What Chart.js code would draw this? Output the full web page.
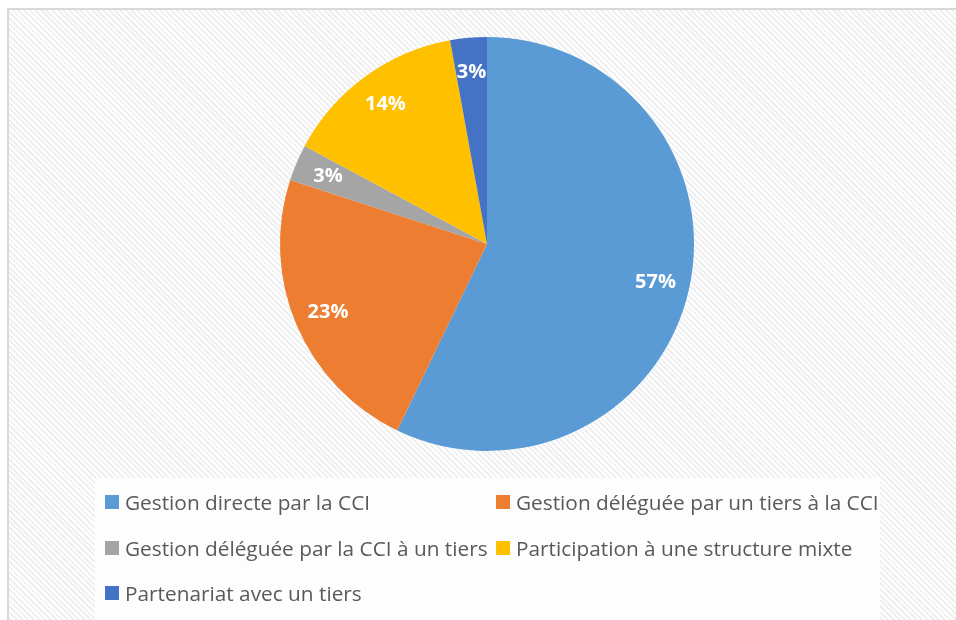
<!DOCTYPE html>
<html>
<head>
<meta charset="utf-8">
<script src="https://cdn.jsdelivr.net/npm/chart.js@4"></script>
<style>
  html, body { margin: 0; padding: 0; background: #fff; width: 956px; height: 620px; overflow: hidden; }
  #frame {
    position: absolute; left: 7px; top: 8px; width: 980px; height: 640px;
    border-left: 2px solid #d9d9d9; border-top: 2px solid #d9d9d9;
    background: repeating-linear-gradient(45deg, #ffffff 0px, #ffffff 2px, #efefef 2px, #efefef 4px);
  }
  #legendBox {
    position: absolute; left: 95px; top: 478px; width: 785px; height: 150px;
    background: #fdfdfd;
  }
  #chart { position: absolute; left: 0; top: 0; }
  .item {
    position: absolute; display: flex; align-items: center;
    font-family: "Open Sans", sans-serif; font-size: 20.8px; color: #595959;
    white-space: nowrap; height: 26px;
  }
  .item span.box { width: 14px; height: 14px; margin-right: 6px; display: inline-block; }
</style>
</head>
<body>
<div id="frame"></div>
<div id="legendBox"></div>
<canvas id="chart" width="956" height="620"></canvas>
<div id="legend"></div>
<script>
const categories = [
  "Gestion directe par la CCI",
  "Gestion déléguée par un tiers à la CCI",
  "Gestion déléguée par la CCI à un tiers",
  "Participation à une structure mixte",
  "Partenariat avec un tiers"
];
const counts = [20, 8, 1, 5, 1];
const colors = ["#5b9bd5", "#ed7d31", "#a5a5a5", "#ffc000", "#4472c4"];

// data labels inside the slices
const sliceLabels = {
  id: 'sliceLabels',
  afterDatasetsDraw(chart) {
    const ctx = chart.ctx;
    const meta = chart.getDatasetMeta(0);
    const total = counts.reduce((a, b) => a + b, 0);
    ctx.save();
    ctx.fillStyle = '#ffffff';
    ctx.font = 'bold 20px "Open Sans", sans-serif';
    ctx.textAlign = 'center';
    ctx.textBaseline = 'middle';
    meta.data.forEach((arc, i) => {
      const p = arc.getProps(['x', 'y', 'startAngle', 'endAngle', 'outerRadius'], true);
      const mid = (p.startAngle + p.endAngle) / 2;
      const r = p.outerRadius * 0.835;
      const txt = Math.round(counts[i] / total * 100) + '%';
      ctx.fillText(txt, p.x + Math.cos(mid) * r, p.y + Math.sin(mid) * r);
    });
    ctx.restore();
  }
};

new Chart(document.getElementById('chart'), {
  type: 'pie',
  data: {
    labels: categories,
    datasets: [{
      data: counts,
      backgroundColor: colors,
      borderWidth: 0
    }]
  },
  options: {
    responsive: false,
    animation: false,
    layout: { padding: { top: 37, bottom: 169, left: 280, right: 262 } },
    plugins: {
      legend: { display: false },
      tooltip: { enabled: false }
    }
  },
  plugins: [sliceLabels]
});

// legend laid out in two columns like the original
const legendEl = document.getElementById('legend');
const colX = [105, 496];
const rowY = [502, 548, 593];
categories.forEach((name, i) => {
  const d = document.createElement('div');
  d.className = 'item';
  d.style.left = colX[i % 2] + 'px';
  d.style.top = (rowY[Math.floor(i / 2)] - 13) + 'px';
  d.innerHTML = '<span class="box" style="background:' + colors[i] + '"></span>' + name;
  legendEl.appendChild(d);
});
</script>
</body>
</html>
